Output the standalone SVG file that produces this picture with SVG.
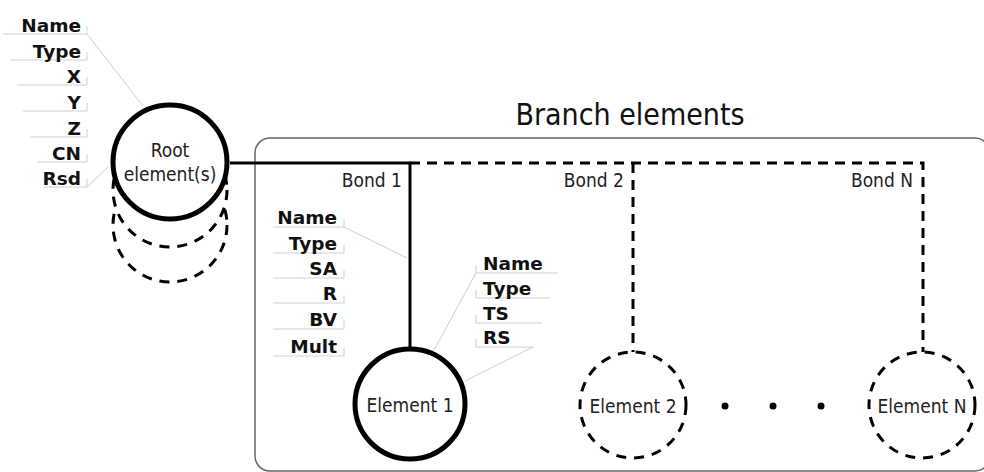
<svg xmlns="http://www.w3.org/2000/svg" width="984" height="472" viewBox="0 0 984 472">
<style>
.lbl{font-family:"DejaVu Sans","Liberation Sans",sans-serif;font-weight:bold;font-size:18.5px;fill:#111}
.txt{font-family:"DejaVu Sans Condensed","DejaVu Sans","Liberation Sans",sans-serif;font-stretch:condensed;font-size:19px;fill:#222}
.ttl{font-family:"DejaVu Sans Condensed","DejaVu Sans","Liberation Sans",sans-serif;font-stretch:condensed;font-size:30px;fill:#111}
.grid{stroke:#cfcfcf;stroke-width:1;fill:none}
.solid{stroke:#000;stroke-width:3;fill:none}
.dash{stroke:#000;stroke-width:3;fill:none;stroke-dasharray:10 7}
.node{fill:#fff;stroke:#000;stroke-width:5}
.dnode{fill:#fff;stroke:#000;stroke-width:3;stroke-dasharray:10 8}
</style>
<rect width="984" height="472" fill="#fff"/>
<g id="branch-box">
<rect x="255" y="138" width="735" height="333" rx="15" fill="none" stroke="#666" stroke-width="1.5"/>
<text class="ttl" x="630" y="125" text-anchor="middle">Branch elements</text>
</g>
<g id="connectors">
<path class="solid" d="M230,163 H410 V350"/>
<path class="dash" d="M410,163 H923 V352"/>
<path class="dash" d="M633,163 V352"/>
<text class="txt" x="402" y="187" text-anchor="end">Bond 1</text>
<text class="txt" x="624" y="187" text-anchor="end">Bond 2</text>
<text class="txt" x="913" y="187" text-anchor="end">Bond N</text>
</g>
<g id="root-attrs">
<path class="grid" d="M3,34 H87 V26 M10,60 H87 V52 M17,85 H87 V77 M23,111 H87 V103 M30,137 H87 V129 M37,162 H87 V154 M43,187 H87 V179"/>
<path class="grid" d="M87,34 L143,106 M87,187 L108,167"/>
<text class="lbl" x="81" y="32" text-anchor="end">Name</text>
<text class="lbl" x="81" y="58" text-anchor="end">Type</text>
<text class="lbl" x="81" y="83" text-anchor="end">X</text>
<text class="lbl" x="81" y="109" text-anchor="end">Y</text>
<text class="lbl" x="81" y="135" text-anchor="end">Z</text>
<text class="lbl" x="81" y="160" text-anchor="end">CN</text>
<text class="lbl" x="81" y="185" text-anchor="end">Rsd</text>
</g>
<g id="root">
<circle class="dnode" cx="170" cy="225" r="57"/>
<circle class="dnode" cx="170" cy="190" r="57"/>
<circle class="node" cx="170" cy="162" r="57"/>
<text class="txt" x="170" y="157" text-anchor="middle" font-size="20">Root</text>
<text class="txt" x="170" y="181" text-anchor="middle" font-size="20">element(s)</text>
</g>
<g id="bond1-attrs">
<path class="grid" d="M273,227 H344 V219 M273,253 H344 V245 M273,278 H344 V270 M273,303 H344 V295 M273,329 H344 V321 M273,356 H344 V348"/>
<path class="grid" d="M344,227 L407,258"/>
<text class="lbl" x="337" y="224" text-anchor="end">Name</text>
<text class="lbl" x="337" y="250" text-anchor="end">Type</text>
<text class="lbl" x="337" y="275" text-anchor="end">SA</text>
<text class="lbl" x="337" y="300" text-anchor="end">R</text>
<text class="lbl" x="337" y="326" text-anchor="end">BV</text>
<text class="lbl" x="337" y="353" text-anchor="end">Mult</text>
</g>
<g id="element1-attrs">
<path class="grid" d="M476,265 V273 H558 M476,290 V298 H550 M476,315 V323 H542 M476,339 V347 H533"/>
<path class="grid" d="M476,273 L433,352 M533,347 L465,381"/>
<text class="lbl" x="483" y="270" text-anchor="start">Name</text>
<text class="lbl" x="483" y="295" text-anchor="start">Type</text>
<text class="lbl" x="483" y="320" text-anchor="start">TS</text>
<text class="lbl" x="483" y="344" text-anchor="start">RS</text>
</g>
<g id="element1">
<circle class="node" cx="410" cy="404" r="55"/>
<text class="txt" x="410" y="412" text-anchor="middle">Element 1</text>
</g>
<g id="element2">
<circle class="dnode" cx="633" cy="405" r="53"/>
<text class="txt" x="633" y="413" text-anchor="middle">Element 2</text>
</g>
<g id="ellipsis">
<circle cx="725" cy="406" r="3.5" fill="#000"/>
<circle cx="773" cy="406" r="3.5" fill="#000"/>
<circle cx="821" cy="406" r="3.5" fill="#000"/>
</g>
<g id="elementN">
<circle class="dnode" cx="922" cy="405" r="53"/>
<text class="txt" x="922" y="413" text-anchor="middle">Element N</text>
</g>
</svg>
